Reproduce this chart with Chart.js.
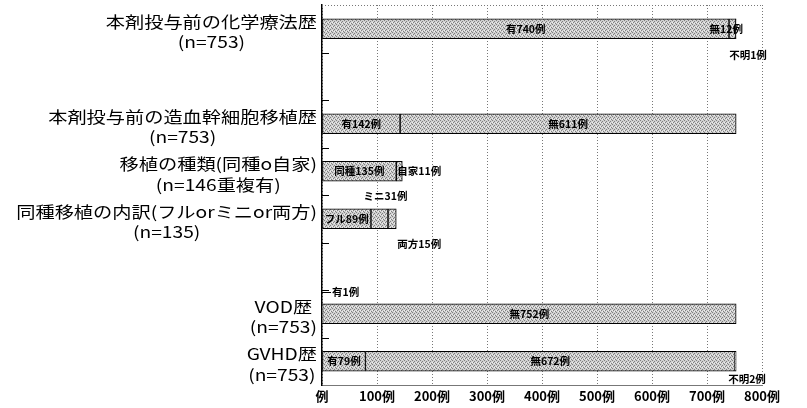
<!DOCTYPE html>
<html><head><meta charset="utf-8">
<script src="https://cdn.jsdelivr.net/npm/chart.js@4/dist/chart.umd.min.js"></script>
<style>html,body{margin:0;padding:0;background:#fff;}#wrap{width:807px;height:408px;}</style>
</head><body><div id="wrap"><canvas id="c" width="807" height="408"></canvas></div>
<script>
// ---- data ----
const categories = ['chemo', '', 'sct', 'type', 'allo', '', 'vod', 'gvhd'];
const categoryLines = [
  ['本剤投与前の化学療法歴', '(n=753)'],
  [],
  ['本剤投与前の造血幹細胞移植歴', '(n=753)'],
  ['移植の種類(同種o自家)', '(n=146重複有)'],
  ['同種移植の内訳(フルorミニor両方)', '(n=135)'],
  [],
  ['VOD歴', '(n=753)'],
  ['GVHD歴', '(n=753)']
];
const seg1Values = [740, null, 142, 135, 89, null, 1, 79];
const seg2Values = [12, null, 611, 11, 31, null, 752, 672];
const seg3Values = [1, null, null, null, 15, null, null, 2];
const seg1Names = ['有', '', '有', '同種', 'フル', '', '有', '有'];
const seg2Names = ['無', '', '無', '自家', 'ミニ', '', '無', '無'];
const seg3Names = ['不明', '', '', '', '両方', '', '', '不明'];
const xTicks = [0, 100, 200, 300, 400, 500, 600, 700, 800];
const unit = '例';

// ---- label placement (style only) ----
const placement = {
  '1-0': {mode: 'in', dx: -6},
  '2-0': {mode: 'left', dx: -7, dy: 26},
  '1-3': {mode: 'left', dx: -5, dy: 0},
  '1-4': {mode: 'in', dx: 6, dy: -23},
  '2-4': {mode: 'left', dx: 1, dy: 25},
  '0-6': {mode: 'leader', dx: 10, dy: -22},
  '2-7': {mode: 'left', dx: -8, dy: 18}
};

// ---- pattern fill ----
function makePattern() {
  const p = document.createElement('canvas');
  p.width = 4; p.height = 4;
  const g = p.getContext('2d');
  g.fillStyle = '#d0d0d0'; g.fillRect(0, 0, 4, 4);
  g.fillStyle = '#808080';
  [[0,0],[2,1],[1,2],[3,3]].forEach(([x,y]) => g.fillRect(x, y, 1, 1));
  g.fillStyle = '#efefef';
  [[2,3],[0,2]].forEach(([x,y]) => g.fillRect(x, y, 1, 1));
  return g.createPattern(p, 'repeat');
}
const pattern = makePattern();

const FONT = '"Noto Sans CJK JP", "Noto Sans", sans-serif';

const framePlugin = {
  id: 'frame',
  beforeDatasetsDraw(chart) {
    const {ctx, chartArea: a} = chart;
    ctx.save();
    ctx.strokeStyle = '#777';
    ctx.lineWidth = 1;
    ctx.setLineDash([1, 2]);
    ctx.beginPath();
    ctx.moveTo(a.left, a.top + 0.5); ctx.lineTo(a.right, a.top + 0.5);
    ctx.stroke();
    ctx.restore();
  },
  afterDatasetsDraw(chart) {
    const {ctx, chartArea: a} = chart;
    const ys = chart.scales.y;
    ctx.save();
    ctx.strokeStyle = '#000';
    ctx.lineWidth = 1;
    for (let i = 1; i < categories.length; i++) {
      const y = Math.round((ys.getPixelForValue(i - 1) + ys.getPixelForValue(i)) / 2) + 0.5;
      ctx.beginPath(); ctx.moveTo(a.left, y); ctx.lineTo(a.left + 7, y); ctx.stroke();
    }
    ctx.font = 'bold 10.5px ' + FONT;
    ctx.fillStyle = '#000';
    ctx.textBaseline = 'middle';
    chart.data.datasets.forEach((ds, di) => {
      const meta = chart.getDatasetMeta(di);
      meta.data.forEach((el, j) => {
        const v = ds.data[j];
        if (v === null || v === undefined) return;
        const text = ds.names[j] + v + unit;
        const pl = placement[di + '-' + j] || {mode: 'in'};
        const cx = (el.x + el.base) / 2;
        const dx = pl.dx || 0, dy = pl.dy || 0;
        if (pl.mode === 'in') {
          ctx.textAlign = 'center';
          ctx.fillText(text, cx + dx, el.y + dy);
        } else if (pl.mode === 'left') {
          ctx.textAlign = 'left';
          ctx.fillText(text, el.x + dx, el.y + dy);
        } else if (pl.mode === 'leader') {
          ctx.textAlign = 'left';
          ctx.fillText(text, a.left + dx, el.y + dy);
          ctx.beginPath();
          ctx.moveTo(a.left, Math.round(el.y + dy) + 0.5);
          ctx.lineTo(a.left + dx - 1, Math.round(el.y + dy) + 0.5);
          ctx.stroke();
        }
      });
    });
    ctx.restore();
  },
  afterDraw(chart) {
    const {ctx, chartArea: a} = chart;
    const ys = chart.scales.y;
    ctx.save();
    ctx.font = '16px ' + FONT;
    ctx.fillStyle = '#000';
    ctx.textBaseline = 'middle';
    ctx.textAlign = 'center';
    const sx = 1.2;
    const right = a.left - 5;
    categoryLines.forEach((lines, i) => {
      if (!lines.length) return;
      const yc = ys.getPixelForValue(i);
      const widths = lines.map(t => ctx.measureText(t).width * sx);
      const w = Math.max(...widths);
      const center = right - w / 2;
      const offs = [-7, 13.5];
      lines.forEach((t, k) => {
        ctx.save();
        ctx.translate(center, yc + offs[k]);
        ctx.scale(sx, 1);
        ctx.fillText(t, 0, 0);
        ctx.restore();
      });
    });
    ctx.restore();
  }
};

const barCommon = {
  backgroundColor: pattern,
  borderColor: '#000',
  borderWidth: 1,
  borderSkipped: false,
  barThickness: 20
};

new Chart(document.getElementById('c'), {
  type: 'bar',
  data: {
    labels: categories,
    datasets: [
      Object.assign({label: 's1', data: seg1Values, names: seg1Names}, barCommon),
      Object.assign({label: 's2', data: seg2Values, names: seg2Names}, barCommon),
      Object.assign({label: 's3', data: seg3Values, names: seg3Names}, barCommon)
    ]
  },
  options: {
    indexAxis: 'y',
    responsive: false,
    animation: false,
    devicePixelRatio: 1,
    layout: {padding: {left: 322, right: 45, top: 5, bottom: 0}},
    plugins: {legend: {display: false}, tooltip: {enabled: false}},
    scales: {
      x: {
        stacked: true,
        min: 0, max: 800,
        afterBuildTicks(s) { s.ticks = xTicks.map(v => ({value: v})); },
        afterFit(s) { s.height = 23; },
        ticks: {
          padding: 3,
          color: '#000',
          font: {family: FONT, size: 13, weight: 'bold'},
          callback: v => (v === 0 ? '' : v) + unit,
          maxRotation: 0, autoSkip: false
        },
        grid: {color: '#777', lineWidth: 1, tickLength: 0, drawTicks: false},
        border: {display: true, color: '#777', dash: [1, 2]}
      },
      y: {
        stacked: true,
        afterFit(s) { s.width = 0; },
        ticks: {display: false},
        grid: {display: false},
        border: {display: true, color: '#000', width: 1.5}
      }
    }
  },
  plugins: [framePlugin]
});
</script>
</body></html>
